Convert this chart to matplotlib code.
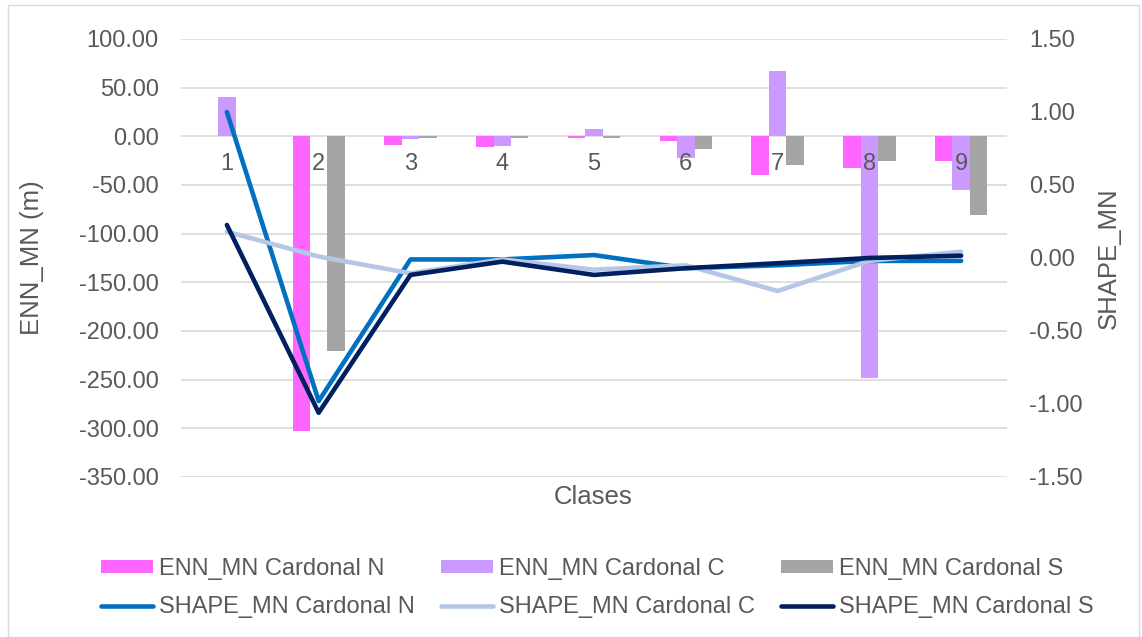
import numpy as np
import matplotlib
matplotlib.use("Agg")
import matplotlib.pyplot as plt
from matplotlib.patches import Rectangle

# ── Data ─────────────────────────────────────────────────────────
clases = ["1", "2", "3", "4", "5", "6", "7", "8", "9"]

enn_n = [0.0, -302.6, -9.2, -10.5, -1.7, -5.0, -40.2, -33.0, -25.2]
enn_c = [40.6, 0.0, -2.5, -10.2, 7.5, -22.5, 67.2, -248.7, -55.6]
enn_s = [0.0, -221.0, -1.3, -1.7, -1.5, -13.3, -29.7, -25.2, -80.5]

shape_n = [1.00, -0.98, -0.01, -0.01, 0.02, -0.07, -0.05, -0.02, -0.02]
shape_c = [0.18, 0.01, -0.105, -0.01, -0.08, -0.05, -0.226, -0.02, 0.043]
shape_s = [0.226, -1.06, -0.116, -0.025, -0.116, -0.07, -0.036, 0.0, 0.016]

left_ticks = [100, 50, 0, -50, -100, -150, -200, -250, -300, -350]
right_ticks = [1.5, 1.0, 0.5, 0.0, -0.5, -1.0, -1.5]

TXT = "#595959"
FS = 17
plt.rcParams["font.family"] = ["Liberation Sans", "DejaVu Sans"]

fig = plt.figure(figsize=(11.42, 6.37), dpi=100)
fig.patches.append(Rectangle((0.007, 0.0), 0.99, 0.992, transform=fig.transFigure,
                             fill=False, edgecolor="#D9D9D9", linewidth=1))
ax = fig.add_axes([0.1585, 0.2512, 0.7233, 0.6876])
ax2 = ax.twinx()

x = np.arange(len(clases))
w = 0.19
b1 = ax.bar(x - w, enn_n, w, color="#FF66FF", label="ENN_MN Cardonal N", zorder=2)
b2 = ax.bar(x, enn_c, w, color="#CC99FF", label="ENN_MN Cardonal C", zorder=2)
b3 = ax.bar(x + w, enn_s, w, color="#A5A5A5", label="ENN_MN Cardonal S", zorder=2)

line_kw = dict(lw=3.3, solid_capstyle="round", solid_joinstyle="round", zorder=3)
l1, = ax2.plot(x, shape_n, color="#0070C0", label="SHAPE_MN Cardonal N", **line_kw)
l2, = ax2.plot(x, shape_c, color="#B4C7E7", label="SHAPE_MN Cardonal C", **line_kw)
l3, = ax2.plot(x, shape_s, color="#002060", label="SHAPE_MN Cardonal S", **line_kw)

ax.set_xlim(-0.5, len(clases) - 0.5)
ax.set_ylim(-350, 100)
ax2.set_ylim(-1.5, 1.5)

ax.set_yticks(left_ticks)
ax.set_yticklabels([f"{v:.2f}" for v in left_ticks])
ax2.set_yticks(right_ticks)
ax2.set_yticklabels([f"{v:.2f}" for v in right_ticks])

ax.grid(axis="y", color="#D9D9D9", linewidth=1.2, zorder=0)
ax.set_axisbelow(True)

for a in (ax, ax2):
    for s in a.spines.values():
        s.set_visible(False)
    a.tick_params(axis="y", length=0, labelsize=FS, colors=TXT, pad=16)
    a.set_xticks([])

# category labels sit just under the zero line (left axis), over the bars
for xi, lab in zip(x, clases):
    ax2.annotate(lab, xy=(xi, 0), xycoords=("data", ax.transData),
                 xytext=(0, -20), textcoords="offset points",
                 ha="center", va="center", fontsize=FS, color=TXT, zorder=2)

ax.set_ylabel("ENN_MN (m)", fontsize=18.5, color=TXT, labelpad=25)
ax2.set_ylabel("SHAPE_MN", fontsize=18.5, color=TXT, labelpad=10)
fig.text(0.519, 0.22, "Clases", fontsize=18.5, color=TXT, ha="center", va="center")

handles = [b1, l1, b2, l2, b3, l3]
leg = fig.legend(handles, [h.get_label() for h in handles], ncol=3,
                 loc="center", bbox_to_anchor=(0.523, 0.077), frameon=False,
                 fontsize=FS, labelcolor=TXT, handlelength=2.2, handleheight=0.5,
                 handletextpad=0.25, columnspacing=1.1, labelspacing=0.7)

plt.savefig("out.png", dpi=100)
